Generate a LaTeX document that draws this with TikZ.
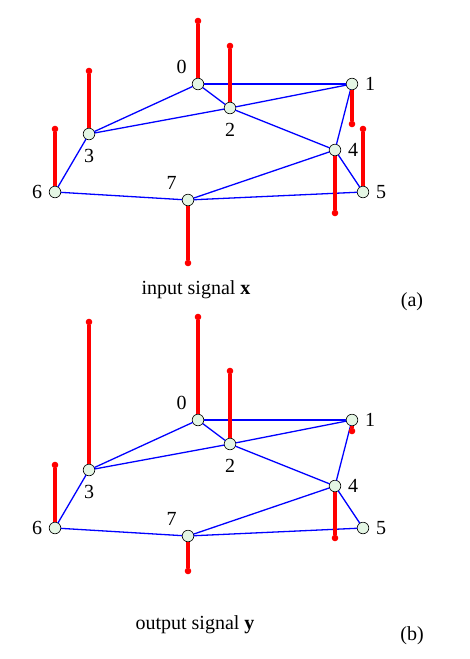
\documentclass[tikz,border=0pt]{standalone}
\usepackage{fontspec}
\setmainfont{Liberation Serif}
\usetikzlibrary{positioning}
\definecolor{vtxfill}{RGB}{228,246,228}
\begin{document}
\begin{tikzpicture}[x=1pt, y=-1pt,
  font=\fontsize{20}{24}\selectfont, node distance=7pt,
  v/.style={circle, draw, line width=0.6pt, fill=vtxfill, minimum size=11.6pt,
            inner sep=0pt, outer sep=0pt},
  tip/.style={circle, fill=red, minimum size=6.6pt, inner sep=0pt, outer sep=0pt},
  lbl/.style={inner sep=0pt},
  e/.style={blue, line width=1.3pt},
  sig/.style={red, line width=4pt}]
\useasboundingbox (0,0) rectangle (470,659);
% (a) input signal on the graph
\node[v] (a0) at (198,84) {};
\node[v] (a1) at (352,84) {};
\node[v] (a2) at (230,108) {};
\node[v] (a3) at (89,134) {};
\node[v] (a4) at (335,150) {};
\node[v] (a5) at (363,192) {};
\node[v] (a6) at (55,192) {};
\node[v] (a7) at (188,200) {};
\foreach \i/\j in {0/1,0/2,0/3,1/2,1/4,2/3,2/4,3/6,4/5,4/7,5/7,6/7}
  \draw[e] (a\i)--(a\j);
\node[tip] (x0) at (198,21) {};
\node[tip] (x1) at (352,124) {};
\node[tip] (x2) at (230,46) {};
\node[tip] (x3) at (89,71) {};
\node[tip] (x4) at (335,213) {};
\node[tip] (x5) at (363,129) {};
\node[tip] (x6) at (55,129) {};
\node[tip] (x7) at (188,263) {};
\foreach \i in {0,...,7}
  \draw[sig] (a\i)--(x\i);
\node[lbl, above left=6pt and 7pt of a0] (la0) {0};
\node[lbl, right=of a1] (la1) {1};
\node[lbl, below=9pt of a2] (la2) {2};
\node[lbl, below=9pt of a3] (la3) {3};
\node[lbl, right=of a4] (la4) {4};
\node[lbl, right=of a5] (la5) {5};
\node[lbl, left=of a6] (la6) {6};
\node[lbl, above left=6pt and 7pt of a7] (la7) {7};
\node (capa) at (196,290) {input signal \textbf{x}};
\node (taga) at (412,302) {(a)};
% (b) output signal on the graph
\node[v] (b0) at (198,420) {};
\node[v] (b1) at (352,420) {};
\node[v] (b2) at (230,444) {};
\node[v] (b3) at (89,470) {};
\node[v] (b4) at (335,486) {};
\node[v] (b5) at (363,528) {};
\node[v] (b6) at (55,528) {};
\node[v] (b7) at (188,536) {};
\foreach \i/\j in {0/1,0/2,0/3,1/2,1/4,2/3,2/4,3/6,4/5,4/7,5/7,6/7}
  \draw[e] (b\i)--(b\j);
\node[tip] (y0) at (198,317) {};
\node[tip] (y1) at (352,431) {};
\node[tip] (y2) at (230,371) {};
\node[tip] (y3) at (89,322) {};
\node[tip] (y4) at (335,538) {};
\node[tip] (y6) at (55,465) {};
\node[tip] (y7) at (188,571) {};
\foreach \i in {0,1,2,3,4,6,7}
  \draw[sig] (b\i)--(y\i);
\node[lbl, above left=6pt and 7pt of b0] (lb0) {0};
\node[lbl, right=of b1] (lb1) {1};
\node[lbl, below=9pt of b2] (lb2) {2};
\node[lbl, below=9pt of b3] (lb3) {3};
\node[lbl, right=of b4] (lb4) {4};
\node[lbl, right=of b5] (lb5) {5};
\node[lbl, left=of b6] (lb6) {6};
\node[lbl, above left=6pt and 7pt of b7] (lb7) {7};
\node (capb) at (195,625) {output signal \textbf{y}};
\node (tagb) at (412,636) {(b)};
\end{tikzpicture}
\end{document}
